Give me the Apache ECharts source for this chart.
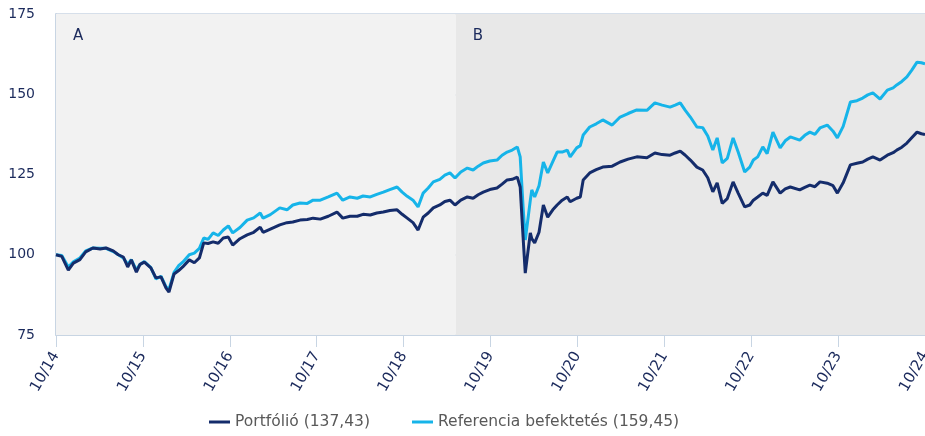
<!DOCTYPE html>
<html>
<head>
<meta charset="utf-8">
<script src="https://cdn.jsdelivr.net/npm/echarts@6/dist/echarts.min.js"></script>
<style>
html,body{margin:0;padding:0;background:#fff;}
#c{width:925px;height:436px;}
</style>
</head>
<body>
<div id="c"></div>
<script>
// months since 10/2014
const months = [0,0.8,1.7,2.4,3.3,4.1,5.1,6.1,6.9,7.9,8.6,9.3,9.9,10.4,11.1,11.6,12.2,13.1,13.8,14.5,15.2,15.6,16.3,16.9,17.5,18.4,19.1,19.8,20.4,21.0,21.7,22.4,23.1,23.8,24.4,25.4,26.4,27.3,28.2,28.6,29.6,30.9,31.9,32.7,33.7,34.7,35.5,36.5,37.6,38.8,39.6,40.6,41.6,42.4,43.4,44.3,45.2,46.1,47.1,47.8,48.5,49.3,50.0,50.7,51.4,52.1,53.0,53.7,54.4,55.1,55.9,56.8,57.6,58.3,59.0,59.9,60.9,61.6,62.3,63.0,63.7,64.1,64.5,64.8,65.2,65.5,65.7,66.1,66.7,67.3,67.9,68.6,69.2,69.9,70.6,71.0,71.9,72.4,72.8,73.7,74.6,75.5,76.8,77.9,79.0,80.2,81.6,82.7,83.7,84.8,85.5,86.2,86.9,87.6,88.5,89.3,90.0,90.7,91.3,92.0,92.7,93.5,94.2,95.1,95.8,96.3,96.9,97.6,98.2,99.0,100.0,100.7,101.4,102.7,103.4,104.1,104.8,105.5,106.5,107.3,107.9,108.7,109.7,110.6,111.4,112.1,112.8,113.8,114.8,115.6,116.1,116.8,117.5,118.2,118.9,119.5,120];
const portfolio = [100,99.5,95.2,97.4,98.5,100.9,102.1,101.8,102.1,101.2,100,99.3,96.2,98.4,94.6,97,97.7,95.9,92.8,93.1,89.6,88.4,94,95,96.2,98.4,97.5,99,103.7,103.5,104,103.6,105.2,105.5,103,105,106.2,107,108.6,107,108,109.3,110,110.2,110.8,111,111.4,111.1,112,113.3,111.4,112,112,112.6,112.4,113,113.3,113.8,114,112.6,111.4,110,107.7,111.7,113,114.6,115.5,116.6,117,115.5,117,118,117.6,118.7,119.5,120.3,120.8,122,123.3,123.5,124.2,121.1,105.5,94.3,101.5,106.8,105,103.7,107,115.5,111.7,114,115.5,117,118,116.5,117.6,118,123.3,125.5,126.5,127.3,127.6,128.9,129.8,130.5,130.2,131.7,131.2,131,131.7,132.3,131,129.5,127.3,126.4,124,119.6,122.4,116,117.5,122.7,119.2,114.9,115.5,117,118,119.2,118.5,122.7,119.2,120.5,121.1,120.2,121,121.7,121.2,122.7,122.3,121.5,119.2,122.4,128,128.5,128.9,129.8,130.5,129.5,131,131.8,132.6,133.5,134.8,136.5,138.2,137.7,137.43];
const reference = [100,99.8,96.2,97.8,99,101.2,102.1,102,102,101,100,99,97,98.5,95.2,97,97.9,96,92.5,93.3,90,89.2,94.5,96.5,97.7,100,100.5,102,105.2,104.8,106.8,106,107.7,109,106.8,108.5,110.8,111.5,113,111.4,112.5,114.6,114,115.5,116.1,116,117,117,118,119.2,117,118,117.6,118.3,118,118.8,119.5,120.3,121.1,119.5,118.2,117,114.9,119.2,120.8,122.7,123.5,124.8,125.5,123.9,125.8,127,126.4,127.6,128.6,129.2,129.5,131,132,132.6,133.6,130.5,114.9,104.6,111.7,117,120.2,118,121.5,128.9,125.5,129,132,132,132.6,130.5,133.3,134,137.3,139.8,140.8,142,140.4,142.9,144,145.1,145,147.3,146.6,146,146.6,147.3,145,142.9,139.8,139.6,137,132.6,136.4,128.6,130,136.4,132,125.8,127.3,129.5,130.5,133.6,131.5,138.2,133.3,135.5,136.7,135.7,137.2,138.2,137.5,139.5,140.4,138.5,136.4,140,147.6,148,148.8,149.8,150.4,148.5,151.3,152,152.9,154,155.4,157.6,160,159.8,159.45];
const tickLabels = ['10/14','10/15','10/16','10/17','10/18','10/19','10/20','10/21','10/22','10/23','10/24'];
const seriesNames = ['Portfólió (137,43)','Referencia befektetés (159,45)'];
const periods = [{name:'A', from:0, to:55.2}, {name:'B', from:55.2, to:120}];

const navy = '#1b2a5c';
const chart = echarts.init(document.getElementById('c'));
chart.setOption({
  animation:false,
  textStyle:{fontFamily:'DejaVu Sans'},
  grid:{left:56,right:0,top:14,bottom:101,containLabel:false,outerBoundsMode:'none'},
  legend:{
    bottom:1, left:204, itemWidth:21, itemHeight:3, itemGap:42,
    icon:'rect',
    textStyle:{color:'#595959',fontSize:15.5,fontFamily:'DejaVu Sans'},
    data:seriesNames
  },
  xAxis:{
    type:'value', min:0, max:120, interval:12,
    axisLine:{show:true,lineStyle:{color:'#c8d5e3',width:1}},
    axisTick:{show:true,length:12,lineStyle:{color:'#c8d5e3'}},
    splitLine:{show:false},
    axisLabel:{rotate:60,color:navy,fontSize:15,margin:18,showMaxLabel:true,hideOverlap:false,
      formatter:v=>tickLabels[Math.round(v/12)]}
  },
  yAxis:{
    type:'value', min:75, max:175, interval:25,
    axisLine:{show:true,lineStyle:{color:'#c8d5e3',width:2}},
    axisTick:{show:false},
    splitLine:{lineStyle:{color:'#c8d5e3',width:1.5}},
    axisLabel:{color:navy,fontSize:14,margin:21}
  },
  series:[
    {
      name:seriesNames[0], type:'line', showSymbol:false, z:3,
      data:months.map((m,i)=>[m,portfolio[i]]),
      lineStyle:{color:'#142c6b',width:3}, itemStyle:{color:'#142c6b'},
      markArea:{
        silent:true,
        data:[
          [{xAxis:periods[0].from,itemStyle:{color:'#f2f2f2'},label:{show:true,formatter:periods[0].name,position:'insideTopLeft',offset:[12,10],color:navy,fontSize:15}},{xAxis:periods[0].to}],
          [{xAxis:periods[1].from,itemStyle:{color:'#e8e8e8'},label:{show:true,formatter:periods[1].name,position:'insideTopLeft',offset:[12,10],color:navy,fontSize:15}},{xAxis:periods[1].to}]
        ]
      }
    },
    {
      name:seriesNames[1], type:'line', showSymbol:false, z:2,
      data:months.map((m,i)=>[m,reference[i]]),
      lineStyle:{color:'#16b4e9',width:3}, itemStyle:{color:'#16b4e9'}
    }
  ]
});
</script>
</body>
</html>
